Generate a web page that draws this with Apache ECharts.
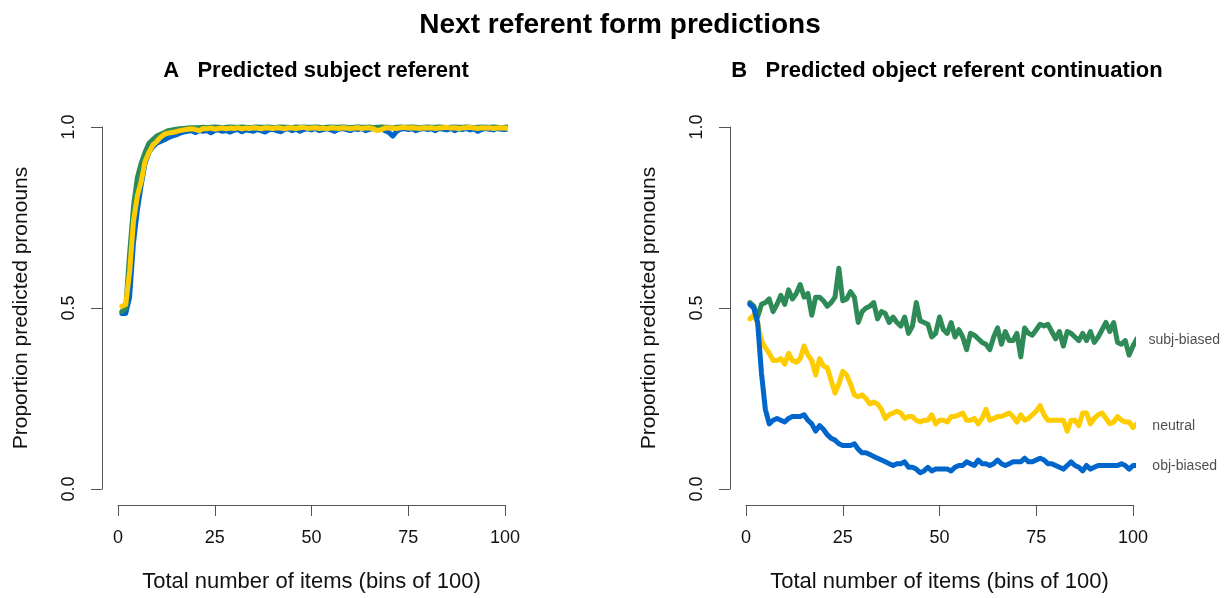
<!DOCTYPE html>
<html>
<head>
<meta charset="utf-8">
<script src="https://cdn.jsdelivr.net/npm/echarts@6/dist/echarts.min.js"></script>
<style>
    html, body { margin: 0; padding: 0; background: #fff; }
    #chart { width: 1230px; height: 598px; }
</style>
</head>
<body>
<div id="chart"></div>
<script>
// panel A: predicted subject referent (bins 1..102)
var subjA_obj = [
    0.485, 0.485, 0.53, 0.68, 0.77, 0.84, 0.90, 0.93, 0.945, 0.955,
    0.96, 0.965, 0.97, 0.975, 0.978, 0.983, 0.986, 0.988, 0.99, 0.985,
    0.99, 0.988, 0.99, 0.984, 0.99, 0.992, 0.988, 0.99, 0.986, 0.991,
    0.993, 0.987, 0.992, 0.99, 0.988, 0.993, 0.99, 0.986, 0.992, 0.994,
    0.99, 0.987, 0.993, 0.995, 0.99, 0.994, 0.988, 0.993, 0.995, 0.992,
    0.996, 0.99, 0.993, 0.995, 0.992, 0.988, 0.994, 0.996, 0.993, 0.99,
    0.995, 0.993, 0.996, 0.99, 0.994, 0.996, 0.992, 0.995, 0.99, 0.985,
    0.975, 0.988, 0.994, 0.996, 0.993, 0.995, 0.99, 0.994, 0.996, 0.993,
    0.995, 0.99, 0.996, 0.994, 0.992, 0.996, 0.99, 0.995, 0.993, 0.996,
    0.992, 0.995, 0.988, 0.993, 0.996, 0.994, 0.992, 0.996, 0.994, 0.993,
    0.995, 0.994
];
var subjA_subj = [
    0.49, 0.50, 0.65, 0.78, 0.86, 0.90, 0.93, 0.955, 0.965, 0.975,
    0.98, 0.985, 0.99, 0.992, 0.994, 0.995, 0.996, 0.997, 0.998, 0.998,
    0.998, 0.999, 0.998, 0.999, 1.0, 0.999, 0.998, 0.999, 1.0, 0.999,
    0.999, 1.0, 0.999, 0.998, 0.999, 1.0, 0.999, 0.999, 1.0, 0.998,
    0.999, 1.0, 0.999, 0.999, 0.998, 1.0, 0.999, 1.0, 0.999, 0.999,
    1.0, 0.999, 0.998, 0.999, 1.0, 0.999, 0.999, 1.0, 0.999, 0.998,
    0.999, 1.0, 0.999, 0.999, 1.0, 0.998, 0.999, 1.0, 0.999, 0.999,
    0.998, 0.999, 1.0, 0.999, 0.999, 1.0, 0.999, 0.998, 0.999, 1.0,
    0.999, 0.999, 1.0, 0.999, 0.998, 0.999, 1.0, 0.999, 0.999, 1.0,
    0.999, 0.998, 0.999, 1.0, 0.999, 0.999, 1.0, 0.999, 0.998, 0.999,
    1.0, 0.999
];
var subjA_neutral = [
    0.505, 0.51, 0.60, 0.74, 0.81, 0.85, 0.905, 0.93, 0.95, 0.96,
    0.972, 0.98, 0.983, 0.985, 0.987, 0.99, 0.992, 0.994, 0.995, 0.993,
    0.99, 0.996, 0.995, 0.997, 0.994, 0.996, 0.997, 0.995, 0.997, 0.996,
    0.998, 0.995, 0.997, 0.996, 0.998, 0.997, 0.995, 0.998, 0.997, 0.996,
    0.998, 0.997, 0.995, 0.998, 0.997, 0.996, 0.998, 0.999, 0.996, 0.997,
    0.998, 0.996, 0.997, 0.995, 0.998, 0.997, 0.996, 0.998, 0.997, 0.995,
    0.997, 0.998, 0.996, 0.997, 0.998, 0.995, 0.99, 0.993, 0.997, 0.998,
    0.997, 0.996, 0.998, 0.999, 0.997, 0.998, 0.997, 0.996, 0.998, 0.997,
    0.998, 0.996, 0.997, 0.998, 0.999, 0.997, 0.998, 0.996, 0.997, 0.998,
    0.999, 0.997, 0.996, 0.998, 0.997, 0.998, 0.996, 0.997, 0.998, 0.997,
    0.996, 0.997
];

// panel B: predicted object referent continuation
var objB_subj = [
    0.515, 0.505, 0.475, 0.51, 0.515, 0.525, 0.49, 0.51, 0.535, 0.51,
    0.55, 0.525, 0.54, 0.565, 0.53, 0.54, 0.48, 0.53, 0.53, 0.52,
    0.505, 0.515, 0.53, 0.61, 0.52, 0.525, 0.545, 0.53, 0.46, 0.49,
    0.50, 0.505, 0.515, 0.47, 0.49, 0.485, 0.46, 0.475, 0.46, 0.45,
    0.475, 0.43, 0.45, 0.515, 0.465, 0.46, 0.455, 0.42, 0.43, 0.475,
    0.44, 0.43, 0.46, 0.42, 0.44, 0.42, 0.385, 0.43, 0.425, 0.415,
    0.405, 0.40, 0.385, 0.42, 0.445, 0.40, 0.435, 0.41, 0.41, 0.43,
    0.365, 0.445, 0.43, 0.425, 0.44, 0.455, 0.45, 0.455, 0.435, 0.415,
    0.435, 0.395, 0.435, 0.43, 0.42, 0.41, 0.43, 0.41, 0.435, 0.405,
    0.42, 0.44, 0.46, 0.435, 0.46, 0.405, 0.40, 0.41, 0.37, 0.395,
    0.415, 0.40
];
var objB_neutral = [
    0.47, 0.48, 0.46, 0.41, 0.39, 0.375, 0.355, 0.355, 0.36, 0.345,
    0.375, 0.355, 0.35, 0.36, 0.395, 0.37, 0.355, 0.315, 0.36, 0.34,
    0.335, 0.30, 0.265, 0.29, 0.325, 0.315, 0.29, 0.26, 0.255, 0.26,
    0.25, 0.235, 0.24, 0.235, 0.22, 0.195, 0.205, 0.21, 0.215, 0.21,
    0.195, 0.20, 0.20, 0.19, 0.185, 0.19, 0.19, 0.205, 0.18, 0.19,
    0.19, 0.185, 0.20, 0.20, 0.205, 0.21, 0.19, 0.19, 0.195, 0.18,
    0.195, 0.22, 0.19, 0.195, 0.20, 0.20, 0.205, 0.21, 0.20, 0.185,
    0.205, 0.19, 0.195, 0.205, 0.215, 0.23, 0.205, 0.19, 0.19, 0.19,
    0.19, 0.19, 0.16, 0.19, 0.19, 0.175, 0.21, 0.21, 0.18, 0.195,
    0.205, 0.21, 0.195, 0.18, 0.185, 0.20, 0.19, 0.185, 0.185, 0.17,
    0.18, 0.16
];
var objB_obj = [
    0.51, 0.50, 0.46, 0.32, 0.22, 0.18, 0.19, 0.195, 0.19, 0.185,
    0.195, 0.20, 0.20, 0.20, 0.205, 0.19, 0.18, 0.16, 0.175, 0.165,
    0.15, 0.14, 0.135, 0.125, 0.12, 0.12, 0.12, 0.125, 0.11, 0.10,
    0.10, 0.095, 0.09, 0.085, 0.08, 0.075, 0.07, 0.065, 0.07, 0.07,
    0.075, 0.06, 0.06, 0.055, 0.045, 0.05, 0.06, 0.05, 0.055, 0.055,
    0.055, 0.055, 0.05, 0.06, 0.065, 0.065, 0.075, 0.07, 0.065, 0.08,
    0.07, 0.07, 0.065, 0.07, 0.08, 0.07, 0.065, 0.07, 0.075, 0.075,
    0.075, 0.085, 0.075, 0.075, 0.08, 0.085, 0.08, 0.07, 0.07, 0.065,
    0.06, 0.055, 0.065, 0.075, 0.065, 0.06, 0.05, 0.065, 0.055, 0.06,
    0.065, 0.065, 0.065, 0.065, 0.065, 0.065, 0.07, 0.065, 0.055, 0.065,
    0.065, 0.065
];

// text labels next to the line ends in panel B: [x, y, text]
var endLabels = [
    [104, 0.411, 'subj-biased'],
    [105, 0.174, 'neutral'],
    [105, 0.063, 'obj-biased']
];

var xTicks = [0, 25, 50, 75, 100];
var yTicks = [0, 0.5, 1];

var GREEN = '#2e8b57', YELLOW = '#ffcc00', BLUE = '#0066cc';
var FONT = '"Liberation Sans", Arial, Helvetica, sans-serif';

function pairs(arr) {
    return arr.map(function (v, i) { return [i + 1, v]; });
}

function line(name, data, color, idx) {
    return {
        name: name,
        type: 'line',
        xAxisIndex: idx,
        yAxisIndex: idx,
        data: pairs(data),
        showSymbol: false,
        clip: false,
        lineStyle: { color: color, width: 5, cap: 'round', join: 'round' },
        itemStyle: { color: color }
    };
}

function xAx(idx) {
    return {
        type: 'value',
        gridIndex: idx,
        min: xTicks[0],
        max: xTicks[xTicks.length - 1],
        interval: 25,
        offset: 16,
        name: 'Total number of items (bins of 100)',
        nameLocation: 'middle',
        nameGap: 66,
        nameTextStyle: { fontSize: 22, color: '#111', fontFamily: FONT },
        axisLine: { onZero: false, lineStyle: { color: '#555', width: 1 } },
        axisTick: { length: 11, lineStyle: { color: '#555' } },
        axisLabel: { fontSize: 18, color: '#111', margin: 24, fontFamily: FONT },
        splitLine: { show: false }
    };
}

function yAx(idx) {
    return {
        type: 'value',
        gridIndex: idx,
        min: yTicks[0],
        max: yTicks[yTicks.length - 1],
        interval: 0.5,
        offset: 16,
        name: 'Proportion predicted pronouns',
        nameLocation: 'middle',
        nameGap: 70,
        nameTextStyle: { fontSize: 21, color: '#111', fontFamily: FONT },
        axisLine: { show: true, onZero: false, lineStyle: { color: '#555', width: 1 } },
        axisTick: { show: true, length: 11, lineStyle: { color: '#555' } },
        axisLabel: {
            fontSize: 18, color: '#111', margin: 24, rotate: 90, fontFamily: FONT,
            formatter: function (v) { return v.toFixed(1); }
        },
        splitLine: { show: false }
    };
}

var chart = echarts.init(document.getElementById('chart'));

var option = {
    animation: false,
    backgroundColor: '#fff',
    textStyle: { fontFamily: FONT },
    title: [
        {
            text: 'Next referent form predictions',
            left: 615, top: 6, textAlign: 'center',
            textStyle: { fontSize: 28, fontWeight: 'bold', color: '#000', fontFamily: FONT }
        },
        {
            text: 'A   Predicted subject referent',
            left: 311, top: 55, textAlign: 'center',
            textStyle: { fontSize: 22, fontWeight: 'bold', color: '#000', fontFamily: FONT }
        },
        {
            text: 'B   Predicted object referent continuation',
            left: 942, top: 55, textAlign: 'center',
            textStyle: { fontSize: 22, fontWeight: 'bold', color: '#000', fontFamily: FONT }
        }
    ],
    grid: [
        { left: 118, top: 127, width: 387, height: 363 },
        { left: 746, top: 127, width: 387, height: 363 }
    ],
    xAxis: [xAx(0), xAx(1)],
    yAxis: [yAx(0), yAx(1)],
    series: [
        line('obj-biased', subjA_obj, BLUE, 0),
        line('subj-biased', subjA_subj, GREEN, 0),
        line('neutral', subjA_neutral, YELLOW, 0),
        line('subj-biased', objB_subj, GREEN, 1),
        line('neutral', objB_neutral, YELLOW, 1),
        line('obj-biased', objB_obj, BLUE, 1),
        {
            type: 'scatter',
            xAxisIndex: 1,
            yAxisIndex: 1,
            clip: false,
            symbolSize: 0,
            data: endLabels,
            label: {
                show: true,
                position: 'right',
                distance: 0,
                fontSize: 14,
                color: '#222',
                fontFamily: FONT,
                formatter: function (p) { return p.data[2]; }
            }
        }
    ]
};

chart.setOption(option);

window.addEventListener('resize', function () {
    chart.resize();
});
</script>
</body>
</html>
